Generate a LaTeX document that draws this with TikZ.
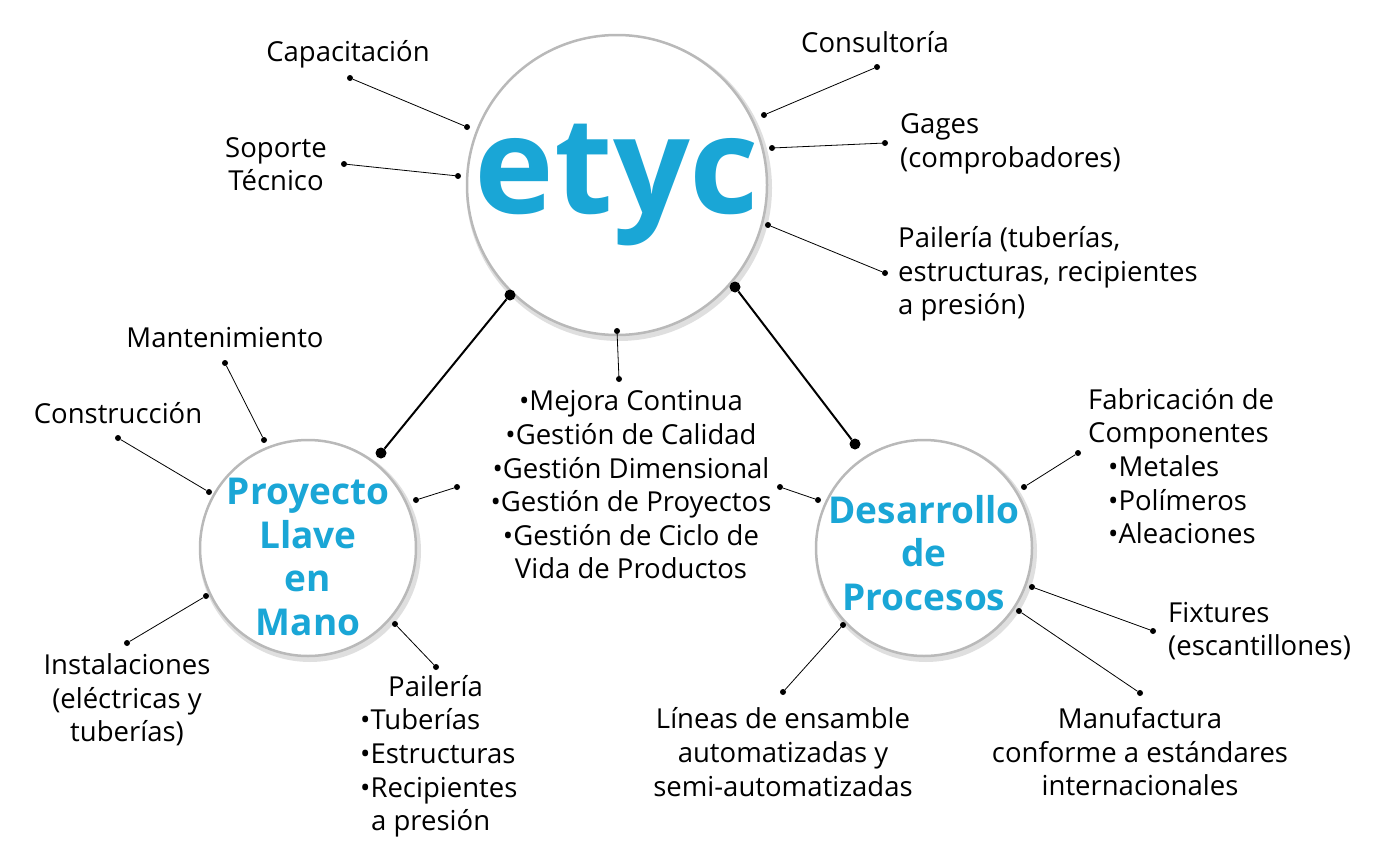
\documentclass[tikz,border=0pt]{standalone}
\usepackage{fontspec}
\setmainfont{Open Sans}
\definecolor{cy}{HTML}{1AA6D6}
\definecolor{cyd}{HTML}{0E7FAE}
\begin{document}
\begin{tikzpicture}[x=1pt,y=-1pt,
  lbl/.style={font=\fontsize{27.5}{33.6}\selectfont,align=center,inner sep=0pt},
  lbll/.style={lbl,align=left,anchor=west},
  big/.style={circle,fill=white,draw=gray!55,line width=2.5pt},
  ctext/.style={font=\fontsize{37}{43.5}\selectfont\bfseries,text=cy,align=center},
  con/.style={line width=0.8pt},
  dot/.style={circle,fill=black,inner sep=0pt,minimum size=6pt},
  bdot/.style={circle,fill=black,inner sep=0pt,minimum size=11pt}]
\useasboundingbox (0,0) rectangle (1373,862);
% circles
\foreach \n/\x/\y/\r in {ce/617/185/150,cp/308/548/108,cd/924/548/108}{
  \fill[gray!25] (\x+2,\y+3) circle (\r+3);
  \node[big,minimum size=2*\r] (\n) at (\x,\y) {};
}
\node[font=\fontsize{135}{135}\selectfont\bfseries,text=cy] (et) at (617,185) {etyc};
\node[ctext] (tp) at (308,557) {Proyecto\\Llave\\en\\Mano};
\node[ctext] (td) at (924,553) {Desarrollo\\de\\Procesos};
% labels
\node[lbl] (capa) at (348,54) {Capacitación};
\node[lbl] (sop) at (276,164) {Soporte\\Técnico};
\node[lbl] (cons) at (875,42) {Consultoría};
\node[lbll] (gag) at (900,144) {Gages\\(comprobadores)};
\node[lbll] (pai) at (898,274) {Pailería (tuberías,\\estructuras, recipientes\\a presión)};
\node[lbl] (list) at (631,485) {•Mejora Continua\\•Gestión de Calidad\\•Gestión Dimensional\\•Gestión de Proyectos\\•Gestión de Ciclo de\\Vida de Productos};
\node[lbl] (mant) at (225,338) {Mantenimiento};
\node[lbl] (const) at (118,413) {Construcción};
\node[lbl] (inst) at (127,700) {Instalaciones\\(eléctricas y\\tuberías)};
\node[lbl,align=left,anchor=north west] (pail) at (360,675) {\hspace*{28pt}Pailería\\•Tuberías\\•Estructuras\\•Recipientes\\\hspace*{11pt}a presión};
\node[lbl] (lin) at (783,752) {Líneas de ensamble\\automatizadas y\\semi-automatizadas};
\node[lbl] (manu) at (1140,752) {Manufactura\\conforme a estándares\\internacionales};
\node[lbll] (fix) at (1168,631) {Fixtures\\(escantillones)};
\node[lbll] (fab) at (1088,466) {Fabricación de\\Componentes\\\hspace*{20pt}•Metales\\\hspace*{20pt}•Polímeros\\\hspace*{20pt}•Aleaciones};
% connector endpoints
\foreach \n/\x/\y in {a1/350/78,a2/467/127,b1/344/164,b2/458/176,c1/877/67,c2/764/115,
  d1/885/143,d2/772/148,e1/885/273,e2/768/225,f1/617/331,f2/619/379,
  g1/225/363,g2/264/440,h1/118/438,h2/209/492,i1/416/500,i2/457/487,j1/780/487,j2/818/500,
  k1/127/643,k2/206/596,l1/436/667,l2/395/624,m1/783/692,m2/843/625,n1/1140/693,n2/1019/611,
  o1/1153/631,o2/1032/587,p1/1078/453,p2/1024/487}{\node[dot] (\n) at (\x,\y) {};}
\foreach \n in {a,b,c,d,e,f,g,h,i,j,k,l,m,n,o,p}{\draw[con] (\n1) -- (\n2);}
\node[bdot] (q1) at (510,295) {}; \node[bdot] (q2) at (381,453) {};
\node[bdot] (r1) at (735,287) {}; \node[bdot] (r2) at (855,444) {};
\draw[line width=2pt] (q1) -- (q2);
\draw[line width=2pt] (r1) -- (r2);
\end{tikzpicture}
\end{document}
